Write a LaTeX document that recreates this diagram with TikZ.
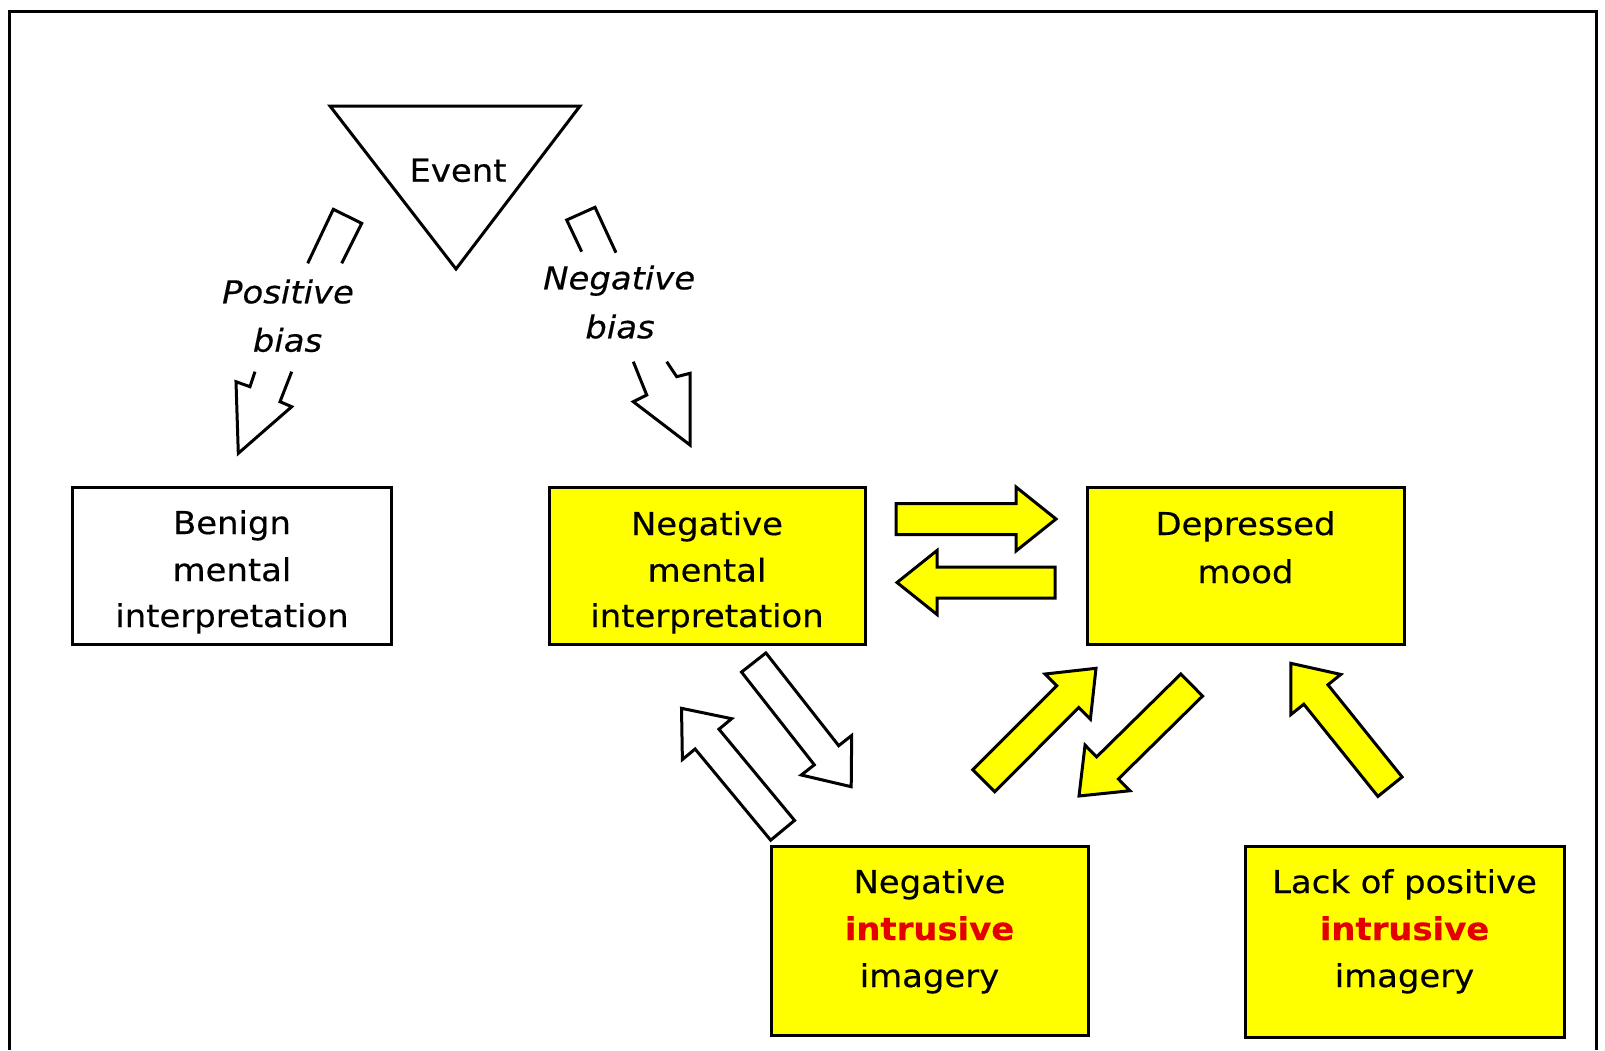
\documentclass[tikz,border=0pt]{standalone}
\usepackage{fontspec}
\setmainfont{DejaVu Sans}[FakeStretch=1.075, FakeBold=0.4]
\usetikzlibrary{calc}

\definecolor{boxyellow}{RGB}{255,255,0}
\definecolor{alertred}{RGB}{228,0,0}

\tikzset{
  outline/.style={draw=black, line width=3pt, line join=miter},
  box/.style={outline, rectangle, inner sep=0pt},
  hibox/.style={box, fill=boxyellow},
  plainbox/.style={box, fill=white},
  lbl/.style={anchor=base, inner sep=0pt, font=\fontsize{31.5}{46}\selectfont},
  biaslbl/.style={lbl, font=\fontsize{31.5}{46}\selectfont\itshape},
  hot/.style={text=alertred, font=\fontsize{31.5}{46}\selectfont\bfseries},
}

% Block arrow: #1 fill colour, #2 tail coordinate, #3 tip coordinate
\newcommand\blockarrow[3][white]{%
  \coordinate (headbase) at ($(#3)!40pt!(#2)$);
  \filldraw[outline, fill=#1]
    ($(#2)!15.5pt!90:(#3)$) -- ($(headbase)!15.5pt!90:(#3)$) --
    ($(headbase)!32pt!90:(#3)$) -- (#3) --
    ($(headbase)!32pt!-90:(#3)$) -- ($(headbase)!15.5pt!-90:(#3)$) --
    ($(#2)!15.5pt!-90:(#3)$) -- cycle;
}

\begin{document}
\begin{tikzpicture}[x=1pt, y=-1pt]
\useasboundingbox (0,0) rectangle (1605,1050);
\fill[white] (0,0) rectangle (1605,1050);

% outer frame (open at the bottom)
\draw[line width=3pt] (9,1050) -- (9,11) -- (1596,11) -- (1596,1050);

% the event
\coordinate (ev-l) at (330,106);
\coordinate (ev-r) at (580,106);
\coordinate (ev-b) at (456,269);
\draw[outline] (ev-l) -- (ev-r) -- (ev-b) -- cycle;
\node[lbl] (event) at (458,181.7) {Event};

% interpretation boxes
\node[plainbox, minimum width=319pt, minimum height=157pt] (ben) at (232,565.5) {};
\node[hibox, minimum width=316pt, minimum height=157pt] (nmi) at (707,565.5) {};
\node[hibox, minimum width=317pt, minimum height=157pt] (dm) at (1245.5,565.5) {};
\node[hibox, minimum width=317pt, minimum height=189pt] (nii) at (929.5,940.5) {};
\node[hibox, minimum width=319pt, minimum height=191pt] (lpi) at (1404.5,941.5) {};

\node[lbl] (ben1) at (232,534) {Benign};
\node[lbl] (ben2) at (232,581) {mental};
\node[lbl] (ben3) at (232,627) {interpretation};

\node[lbl] (nmi1) at (707,535) {Negative};
\node[lbl] (nmi2) at (707,581.5) {mental};
\node[lbl] (nmi3) at (707,627) {interpretation};

\node[lbl] (dm1) at (1245.5,535) {Depressed};
\node[lbl] (dm2) at (1245.5,583) {mood};

\node[lbl] (nii1) at (929.5,893) {Negative};
\node[lbl, hot] (nii2) at (929.5,940) {intrusive};
\node[lbl] (nii3) at (929.5,987) {imagery};

\node[lbl] (lpi1) at (1404.5,893) {Lack of positive};
\node[lbl, hot] (lpi2) at (1404.5,940) {intrusive};
\node[lbl] (lpi3) at (1404.5,987) {imagery};

% broken bias arrows with their labels
\draw[outline] (307.7,263.3) -- (333.3,209.3) -- (361.7,223.3) -- (341.7,263.3);
\draw[outline] (255,371.7) -- (250,386.7) -- (236,381.7) -- (238.3,453.3)
  -- (291.7,406.7) -- (280,401.7) -- (291.7,371.7);
\node[biaslbl] (pos1) at (288,303.3) {Positive};
\node[biaslbl] (pos2) at (287.5,351.7) {bias};

\draw[outline] (581.7,251.7) -- (566.7,220) -- (595,207.3) -- (616,252.7);
\draw[outline] (633.3,361.7) -- (646.7,395) -- (633.3,401.7) -- (690,445)
  -- (690,373.3) -- (676.7,376.7) -- (666.7,361.7);
\node[biaslbl] (neg1) at (619.2,289.3) {Negative};
\node[biaslbl] (neg2) at (620,338.3) {bias};

% block arrows between the boxes
\coordinate (nmi-dm-s) at (896,519);
\coordinate (nmi-dm-t) at (1056,519);
\coordinate (dm-nmi-s) at (1055,582.5);
\coordinate (dm-nmi-t) at (897,582.5);
\coordinate (nmi-nii-s) at (753.7,662.5);
\coordinate (nmi-nii-t) at (851.2,786.7);
\coordinate (nii-nmi-s) at (782.6,830.3);
\coordinate (nii-nmi-t) at (681.5,708.3);
\coordinate (nii-dm-s) at (983.7,780.8);
\coordinate (nii-dm-t) at (1096,668.3);
\coordinate (dm-nii-s) at (1191.7,685);
\coordinate (dm-nii-t) at (1079,796);
\coordinate (lpi-dm-s) at (1390,786.7);
\coordinate (lpi-dm-t) at (1290.8,663.3);

\blockarrow[boxyellow]{nmi-dm-s}{nmi-dm-t}
\blockarrow[boxyellow]{dm-nmi-s}{dm-nmi-t}
\blockarrow[white]{nmi-nii-s}{nmi-nii-t}
\blockarrow[white]{nii-nmi-s}{nii-nmi-t}
\blockarrow[boxyellow]{nii-dm-s}{nii-dm-t}
\blockarrow[boxyellow]{dm-nii-s}{dm-nii-t}
\blockarrow[boxyellow]{lpi-dm-s}{lpi-dm-t}
\end{tikzpicture}
\end{document}
